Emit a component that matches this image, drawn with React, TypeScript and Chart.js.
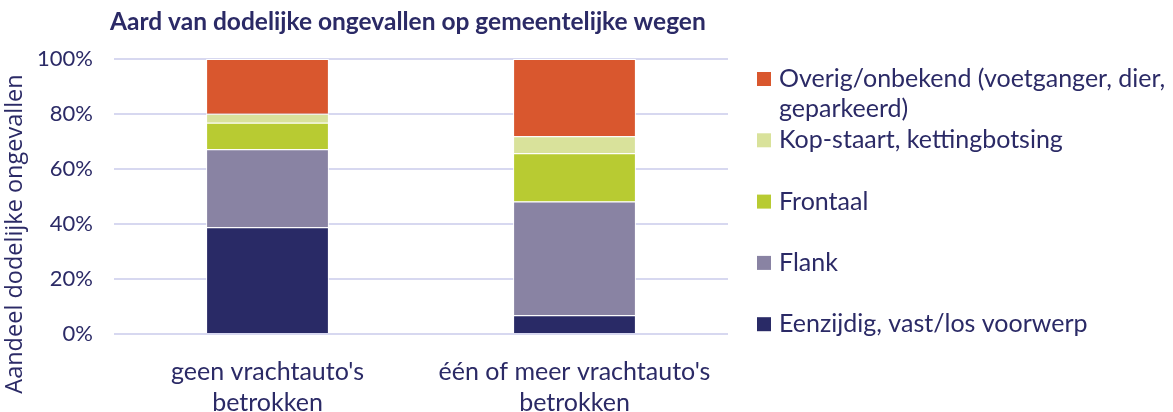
import React, { useEffect, useRef } from 'react';
import { Chart, registerables } from 'chart.js';

Chart.register(...registerables);

const TITLE = 'Aard van dodelijke ongevallen op gemeentelijke wegen';
const Y_TITLE = 'Aandeel dodelijke ongevallen';
const CATEGORIES = [
  ["geen vrachtauto's", 'betrokken'],
  ["één of meer vrachtauto's", 'betrokken'],
];
const Y_TICKS = [0, 20, 40, 60, 80, 100];

const EENZIJDIG = [38.8, 6.8];
const FLANK = [28.4, 41.4];
const FRONTAAL = [9.6, 17.5];
const KOPSTAART = [3.3, 6.2];
const OVERIG = [19.9, 28.1];

const SERIES_NAMES = [
  'Eenzijdig, vast/los voorwerp',
  'Flank',
  'Frontaal',
  'Kop-staart, kettingbotsing',
  'Overig/onbekend (voetganger, dier,\ngeparkeerd)',
];
const SERIES_COLORS = ['#292a66', '#8983a3', '#b8cb32', '#d9e29b', '#d9572e'];

const NAVY = '#2b2a66';
const FONT = 'Lato, "Open Sans", sans-serif';

const overlayPlugin = {
  id: 'overlay',
  afterDraw(chart: any) {
    const ctx = chart.ctx;
    ctx.save();
    // Title
    ctx.fillStyle = NAVY;
    ctx.font = `bold 24.5px ${FONT}`;
    ctx.textBaseline = 'middle';
    ctx.textAlign = 'left';
    ctx.fillText(TITLE, 110, 22);

    // Y axis title
    ctx.save();
    ctx.translate(15, 234);
    ctx.rotate(-Math.PI / 2);
    ctx.textAlign = 'center';
    ctx.textBaseline = 'middle';
    ctx.font = `23.5px "Open Sans", sans-serif`;
    ctx.fillText(Y_TITLE, 0, 0);
    ctx.restore();

    // Legend (reverse order)
    const items = chart.data.datasets.map((d: any, i: number) => ({ d, i })).reverse();
    const x0 = 757;
    const y0 = 79;
    const step = 61.3;
    ctx.font = `25px ${FONT}`;
    ctx.textAlign = 'left';
    ctx.textBaseline = 'middle';
    items.forEach((it: any, k: number) => {
      const cy = y0 + k * step;
      ctx.fillStyle = it.d.backgroundColor;
      ctx.fillRect(x0, cy - 7, 14, 14);
      ctx.fillStyle = NAVY;
      const lines = String(it.d.label).split('\n');
      lines.forEach((ln: string, j: number) => {
        ctx.fillText(ln, x0 + 22, cy + j * 30);
      });
    });
    ctx.restore();
  },
};

export default function App() {
  const ref = useRef<HTMLCanvasElement | null>(null);

  useEffect(() => {
    document.body.style.margin = '0';
    const values = [EENZIJDIG, FLANK, FRONTAAL, KOPSTAART, OVERIG];
    const chart = new Chart(ref.current as HTMLCanvasElement, {
      type: 'bar',
      data: {
        labels: CATEGORIES as any,
        datasets: values.map((v, i) => ({
          label: SERIES_NAMES[i],
          data: v,
          backgroundColor: SERIES_COLORS[i],
          borderColor: '#ffffff',
          borderWidth: 1,
          barPercentage: 0.4,
          categoryPercentage: 1,
        })),
      },
      options: {
        responsive: false,
        animation: false,
        layout: { padding: { top: 59, right: 445, left: 0, bottom: 0 } },
        plugins: { legend: { display: false }, tooltip: { enabled: false }, title: { display: false } },
        scales: {
          x: {
            stacked: true,
            grid: { display: false, drawTicks: false },
            border: { display: false },
            ticks: {
              color: NAVY,
              font: { family: FONT, size: 25, lineHeight: 1.24 },
              padding: 22,
              maxRotation: 0,
            },
            afterFit: (s: any) => {
              s.height = 78;
            },
          },
          y: {
            stacked: true,
            min: 0,
            max: 100,
            afterBuildTicks: (s: any) => {
              s.ticks = Y_TICKS.map((v) => ({ value: v }));
            },
            grid: { color: '#d7d8f0', lineWidth: 2, drawTicks: false },
            border: { display: false },
            ticks: {
              color: NAVY,
              font: { family: FONT, size: 22 },
              padding: 21,
              callback: (v: any) => `${v}%`,
            },
            afterFit: (s: any) => {
              s.width = 114;
            },
          },
        },
      },
      plugins: [overlayPlugin],
    });
    return () => chart.destroy();
  }, []);

  return (
    <div style={{ position: 'absolute', left: 0, top: 0, width: 1173, height: 412 }}>
      <canvas ref={ref} width={1173} height={412} />
    </div>
  );
}
